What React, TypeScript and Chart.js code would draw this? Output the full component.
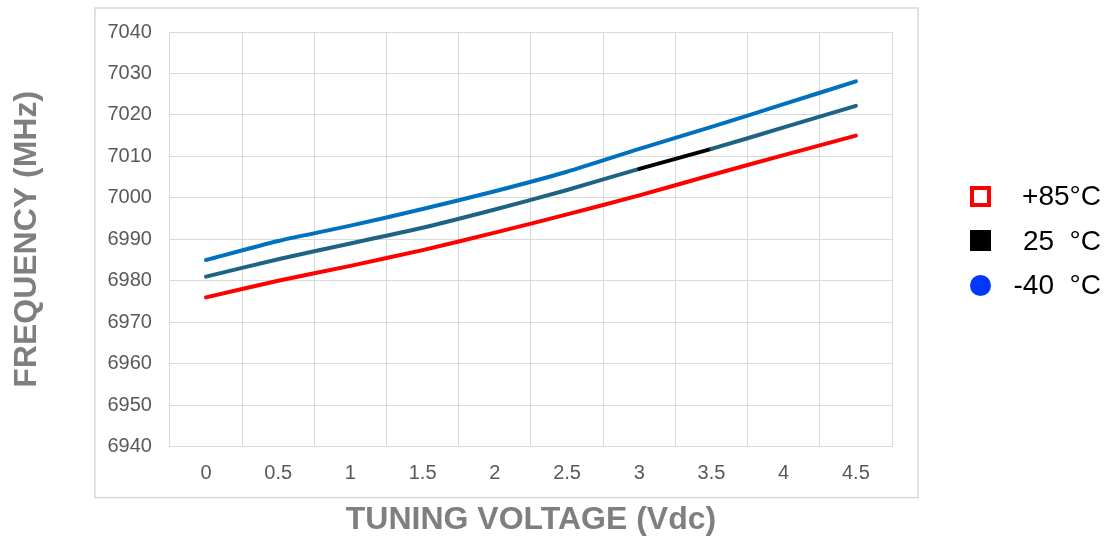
import React, { useEffect, useRef } from "react";
import { Chart, registerables } from "chart.js";

Chart.register(...registerables);

const voltages = ["0", "0.5", "1", "1.5", "2", "2.5", "3", "3.5", "4", "4.5"];
const freqHot = [6976, 6980, 6983.6, 6987.4, 6991.6, 6996, 7000.6, 7005.5, 7010.3, 7015];
const freqRoom = [6981, 6985.2, 6989, 6992.8, 6997.2, 7001.9, 7007, 7011.8, 7017, 7022.2];
const freqCold = [6985, 6989.6, 6993.3, 6997.3, 7001.6, 7006.3, 7011.8, 7017.1, 7022.6, 7028.1];
const legendLabels = ["+85°C", "25  °C", "-40  °C"];

const GRID = "#d9d9d9";
const TITLE_COLOR = "#7f7f7f";
const FONT = "'Liberation Sans', Arial, sans-serif";

const outerBox = {
  id: "outerBox",
  beforeDraw(chart: any) {
    const { ctx, chartArea } = chart;
    ctx.save();
    ctx.fillStyle = "#ffffff";
    ctx.fillRect(0, 0, chart.width, chart.height);
    ctx.strokeStyle = GRID;
    ctx.lineWidth = 1.5;
    ctx.strokeRect(chartArea.left - 75, chartArea.top - 24, chartArea.right - chartArea.left + 101, chartArea.bottom - chartArea.top + 75);
    ctx.restore();
  },
};

export default function App() {
  const ref = useRef<HTMLCanvasElement | null>(null);
  useEffect(() => {
    if (!ref.current) return;
    const chart = new Chart(ref.current, {
      type: "line",
      data: {
        labels: voltages,
        datasets: [
          {
            label: legendLabels[0],
            data: freqHot,
            borderColor: "#ff0000",
            borderWidth: 4,
            pointRadius: 0,
            tension: 0.25,
            borderCapStyle: "round",
          },
          {
            label: legendLabels[1],
            data: freqRoom,
            borderColor: "#1c6384",
            borderWidth: 4,
            pointRadius: 0,
            tension: 0.25,
            borderCapStyle: "round",
            segment: {
              borderColor: (c: any) => (c.p0DataIndex === 6 ? "#000000" : undefined),
            },
          },
          {
            label: legendLabels[2],
            data: freqCold,
            borderColor: "#0070c0",
            borderWidth: 4,
            pointRadius: 0,
            tension: 0.25,
            borderCapStyle: "round",
          },
        ],
      },
      options: {
        animation: false,
        responsive: false,
        layout: { padding: { top: 32, right: 214, bottom: 0, left: 0 } },
        plugins: { legend: { display: false }, tooltip: { enabled: false } },
        scales: {
          x: {
            type: "category",
            offset: true,
            grid: { color: GRID, offset: true, drawTicks: false },
            border: { color: GRID },
            ticks: { color: "#595959", font: { family: FONT, size: 20 }, padding: 15 },
            title: {
              display: true,
              text: "TUNING VOLTAGE (Vdc)",
              color: TITLE_COLOR,
              font: { family: FONT, size: 32, weight: "bold" },
              padding: { top: 0, bottom: 0 },
            },
          },
          y: {
            min: 6940,
            max: 7040,
            ticks: {
              stepSize: 10,
              color: "#595959",
              font: { family: FONT, size: 20 },
              padding: 18,
              callback: (v: any) => String(v),
            },
            grid: { color: GRID, drawTicks: false },
            border: { color: GRID },
            title: {
              display: true,
              text: "FREQUENCY (MHz)",
              color: TITLE_COLOR,
              font: { family: FONT, size: 32, weight: "bold" },
              padding: { top: 8, bottom: 43 },
            },
          },
        },
      },
      plugins: [outerBox],
    });
    return () => chart.destroy();
  }, []);

  const markers = [
    <div style={{ width: 13, height: 13, border: "4px solid #ff0000", boxSizing: "content-box" }} />,
    <div style={{ width: 21, height: 21, background: "#000000" }} />,
    <div style={{ width: 21, height: 21, borderRadius: "50%", background: "#0037ff" }} />,
  ];

  return (
    <div style={{ position: "absolute", left: 0, top: 0, width: 1106, height: 539, background: "#fff" }}>
      <canvas ref={ref} width={1106} height={539} style={{ display: "block" }} />
      {legendLabels.map((t, i) => (
        <div
          key={t}
          style={{
            position: "absolute",
            left: 970,
            top: 185 + i * 44.5,
            width: 131,
            height: 22,
            display: "flex",
            alignItems: "center",
          }}
        >
          {markers[i]}
          <span
            style={{
              position: "absolute",
              right: 0,
              whiteSpace: "pre",
              fontFamily: FONT,
              fontSize: 28,
              color: "#000",
              lineHeight: "22px",
            }}
          >
            {t}
          </span>
        </div>
      ))}
    </div>
  );
}
